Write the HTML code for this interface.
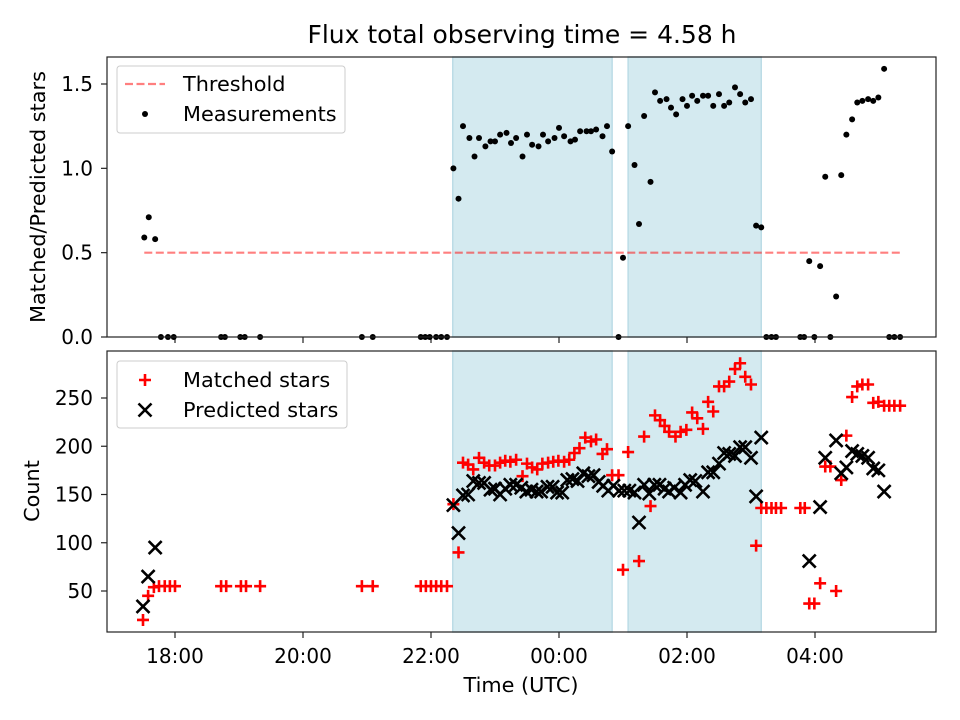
<!DOCTYPE html>
<html><head><meta charset="utf-8"><style>
body{margin:0;background:#fff}
svg{display:block;font-family:"DejaVu Sans","Liberation Sans",sans-serif}
</style></head><body>
<svg id="chart" width="960" height="720" viewBox="0 0 960 720" xmlns="http://www.w3.org/2000/svg">
<text x="522" y="43" font-size="25" text-anchor="middle">Flux total observing time = 4.58 h</text>
<text transform="translate(45,197) rotate(-90)" font-size="20.8" text-anchor="middle">Matched/Predicted stars</text>
<text transform="translate(39,491) rotate(-90)" font-size="20.8" text-anchor="middle">Count</text>
<text x="521" y="692" font-size="20.8" text-anchor="middle">Time (UTC)</text>
<g id="top"></g><g id="bot"></g>
</svg>
<script>
// hours since 18:00 UTC
const xTicks=[0,2,4,6,8,10];
const xTickLabels=["18:00","20:00","22:00","00:00","02:00","04:00"];
const spans=[[4.34,6.83],[7.08,9.16]];
const threshold=0.5;
const thresholdRange=[-0.48,11.36];
const topTicks=[0,0.5,1.0,1.5];
const topTickLabels=["0.0","0.5","1.0","1.5"];
const botTicks=[50,100,150,200,250];
const botTickLabels=["50","100","150","200","250"];
const measT=[-0.48,-0.41,-0.31,-0.22,-0.11,-0.02,0.72,0.78,1.02,1.09,1.33,2.92,3.09,3.84,3.91,3.98,4.08,4.16,4.25,
4.35,4.43,4.50,4.60,4.68,4.75,4.85,4.93,5.00,5.08,5.18,5.25,5.33,5.43,5.50,5.58,5.68,5.75,5.83,5.93,6.00,6.08,6.18,6.25,6.33,6.43,6.50,6.58,6.68,6.75,6.83,6.93,7.00,
7.08,7.18,7.25,7.33,7.43,7.50,7.58,7.68,7.75,7.83,7.93,8.00,8.08,8.16,8.25,8.33,8.41,8.50,8.58,8.66,8.75,8.83,8.91,9.00,9.08,9.16,9.24,9.32,9.39,
9.77,9.83,9.91,9.99,10.08,10.16,10.24,10.33,10.41,10.49,10.58,10.66,10.74,10.83,10.91,10.99,11.08,11.16,11.24,11.33];
const measV=[0.59,0.71,0.58,0,0,0,0,0,0,0,0,0,0,0,0,0,0,0,0,
1.0,0.82,1.25,1.18,1.07,1.18,1.13,1.16,1.16,1.20,1.21,1.15,1.18,1.07,1.20,1.14,1.13,1.20,1.16,1.18,1.24,1.19,1.16,1.17,1.22,1.22,1.22,1.23,1.19,1.25,1.10,0,0.47,
1.25,1.02,0.67,1.31,0.92,1.45,1.40,1.41,1.36,1.32,1.41,1.37,1.43,1.40,1.43,1.43,1.37,1.44,1.37,1.39,1.48,1.44,1.39,1.41,0.66,0.65,0,0,0,
0,0,0.45,0,0.42,0.95,0,0.24,0.96,1.20,1.29,1.39,1.40,1.41,1.40,1.42,1.59,0,0,0];
const matchT=[-0.50,-0.42,-0.33,-0.25,-0.16,-0.08,0,0.72,0.80,1.03,1.11,1.33,2.92,3.09,3.84,3.92,4.00,4.08,4.16,4.25,
4.35,4.43,4.50,4.58,4.66,4.75,4.83,4.91,5.00,5.08,5.16,5.24,5.33,5.43,5.50,5.58,5.66,5.74,5.83,5.91,5.99,6.08,6.16,6.24,6.32,6.41,6.50,6.58,6.68,6.75,6.83,6.93,7.00,
7.08,7.25,7.33,7.43,7.50,7.58,7.65,7.72,7.82,7.90,7.99,8.08,8.16,8.25,8.33,8.41,8.50,8.58,8.66,8.75,8.83,8.91,9.00,9.08,9.16,9.24,9.32,9.39,9.47,
9.77,9.84,9.91,9.99,10.08,10.16,10.24,10.33,10.41,10.49,10.58,10.66,10.74,10.83,10.91,10.99,11.08,11.16,11.24,11.33];
const matchV=[20,45,54,55,55,55,55,55,55,55,55,55,55,55,55,55,55,55,55,55,
140,90,183,181,176,188,183,180,180,183,185,184,186,169,182,178,176,182,183,184,185,184,186,193,198,209,205,207,192,197,170,170,72,
194,81,210,138,232,227,221,215,210,215,217,235,229,218,246,236,262,262,267,280,286,272,264,97,136,136,136,136,136,
136,136,37,37,58,179,179,50,165,211,251,262,264,264,245,246,242,242,242,242];
const predT=[-0.50,-0.42,-0.31,4.35,4.43,4.50,4.58,4.66,4.75,4.83,4.93,5.00,5.08,5.16,5.24,5.33,5.41,5.49,5.57,5.65,5.72,5.82,5.90,5.97,6.05,6.13,6.21,6.29,6.38,6.46,6.54,6.62,6.69,6.77,6.85,6.94,7.02,7.10,7.18,7.25,7.33,7.41,7.49,7.57,7.65,7.72,7.80,7.90,7.97,8.05,8.13,8.25,8.33,8.41,8.50,8.58,8.66,8.75,8.83,8.91,9.00,9.08,9.16,9.91,10.08,10.16,10.33,10.41,10.49,10.58,10.66,10.74,10.83,10.91,10.99,11.08];
const predV=[34,65,95,139,110,149,150,164,162,162,155,156,150,156,160,160,157,153,155,153,153,158,158,152,152,165,166,164,172,169,170,163,159,154,159,154,154,154,152,121,160,151,160,160,156,153,157,152,160,165,164,153,173,173,182,193,192,190,199,199,188,148,209,81,137,188,206,172,178,195,192,190,188,177,175,153];

const NS="http://www.w3.org/2000/svg";
const L=107,R=936;
const x=t=>175+64*t;
const yTop=v=>337-v*168.67;
const yBot=v=>591-(v-50)*0.965;
function mk(parent,tag,attrs){const e=document.createElementNS(NS,tag);for(const k in attrs)e.setAttribute(k,attrs[k]);parent.appendChild(e);return e;}
const gT=document.getElementById('top'),gB=document.getElementById('bot');

function panel(g,y0,y1,name,showLabels){
  for(const s of spans){
    const r=mk(g,'rect',{x:x(s[0]),y:y0,width:x(s[1])-x(s[0]),height:y1-y0,fill:'#d4eaf0',stroke:'#bcdce6','stroke-width':1.5});
    
    
  }
  xTicks.forEach((t,i)=>{
    const tk=mk(g,'line',{x1:x(t),x2:x(t),y1:y1,y2:y1+6,stroke:'#222','stroke-width':1.2});
    
    
    if(showLabels){
      const tx=mk(g,'text',{x:x(t),y:y1+31,'font-size':20,'text-anchor':'middle'});
      tx.textContent=xTickLabels[i];
      
      
    }
  });
}
panel(gT,57,337,'top',false);
panel(gB,351,632,'bottom',true);

topTicks.forEach((v,i)=>{
  mk(gT,'line',{x1:101,x2:107,y1:yTop(v),y2:yTop(v),stroke:'#222','stroke-width':1.2});
  const t=mk(gT,'text',{x:93,y:yTop(v)+7,'font-size':20,'text-anchor':'end'});
  t.textContent=topTickLabels[i];
  
  
});
botTicks.forEach((v,i)=>{
  mk(gB,'line',{x1:101,x2:107,y1:yBot(v),y2:yBot(v),stroke:'#222','stroke-width':1.2});
  const t=mk(gB,'text',{x:93,y:yBot(v)+7,'font-size':20,'text-anchor':'end'});
  t.textContent=botTickLabels[i];
  
  
});

const th=mk(gT,'line',{x1:x(thresholdRange[0]),x2:x(thresholdRange[1]),y1:yTop(threshold),y2:yTop(threshold),stroke:'#ff0000','stroke-opacity':0.5,'stroke-width':2.2,'stroke-dasharray':'8,3.5'});



measT.forEach((t,i)=>{
  const c=mk(gT,'circle',{cx:x(t),cy:yTop(measV[i]),r:3,fill:'#000'});
  
  
});
function plus(g,cx,cy){return mk(g,'path',{d:`M${cx-6} ${cy}H${cx+6}M${cx} ${cy-6}V${cy+6}`,stroke:'#ff0000','stroke-width':2.6,fill:'none'});}
function cross(g,cx,cy){return mk(g,'path',{d:`M${cx-6.5} ${cy-6.5}L${cx+6.5} ${cy+6.5}M${cx-6.5} ${cy+6.5}L${cx+6.5} ${cy-6.5}`,stroke:'#000','stroke-width':2.6,fill:'none'});}
matchT.forEach((t,i)=>{
  const p=plus(gB,x(t),yBot(matchV[i]));
  
  
});
predT.forEach((t,i)=>{
  const p=cross(gB,x(t),yBot(predV[i]));
  
  
});

const f1=mk(gT,'rect',{x:L,y:57,width:R-L,height:280,fill:'none',stroke:'#222','stroke-width':1.2});


const f2=mk(gB,'rect',{x:L,y:351,width:R-L,height:281,fill:'none',stroke:'#222','stroke-width':1.2});



const lg1=mk(gT,'g',{});


mk(lg1,'rect',{x:117,y:66,width:228,height:67,rx:3,fill:'#fff','fill-opacity':0.8,stroke:'#ccc'});
mk(lg1,'line',{x1:125,x2:165,y1:84,y2:84,stroke:'#ff0000','stroke-opacity':0.5,'stroke-width':2.2,'stroke-dasharray':'8,3.5'});
mk(lg1,'circle',{cx:145,cy:114,r:3,fill:'#000'});
const a=mk(lg1,'text',{x:183,y:91,'font-size':20.8});a.textContent='Threshold';


const b=mk(lg1,'text',{x:183,y:121,'font-size':20.8});b.textContent='Measurements';



const lg2=mk(gB,'g',{});


mk(lg2,'rect',{x:117,y:361,width:230,height:67,rx:3,fill:'#fff','fill-opacity':0.8,stroke:'#ccc'});
plus(lg2,145,380);cross(lg2,145,410);
const c1=mk(lg2,'text',{x:183,y:387,'font-size':20.8});c1.textContent='Matched stars';


const c2=mk(lg2,'text',{x:183,y:417,'font-size':20.8});c2.textContent='Predicted stars';


</script>
</body></html>
